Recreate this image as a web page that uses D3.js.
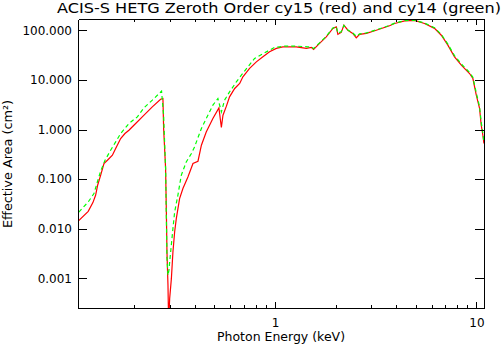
<!DOCTYPE html>
<html>
<head>
<meta charset="utf-8">
<script src="https://cdn.jsdelivr.net/npm/d3@7"></script>
<style>
  html, body { margin: 0; padding: 0; background: #fff; }
  svg { display: block; }
  text { font-family: "DejaVu Sans", "Liberation Sans", sans-serif; fill: #000; }
</style>
</head>
<body>
<svg id="chart" width="504" height="345"></svg>
<script>
// Effective area curves (energy in keV, area in cm^2)
const energyCy15 = [0.105, 0.118, 0.1245, 0.1284, 0.1314, 0.136, 0.1413, 0.147, 0.1556, 0.1615, 0.171, 0.1796, 0.188, 0.199, 0.219, 0.2456, 0.270, 0.2773,
  0.2795, 0.2859, 0.2884, 0.2904, 0.2938, 0.296, 0.2995, 0.3054, 0.3109, 0.317, 0.3231, 0.3355, 0.3485, 0.369, 0.391, 0.414, 0.4305, 0.455, 0.491, 0.526,
  0.541, 0.551, 0.573, 0.594, 0.630, 0.667, 0.692, 0.747, 0.807, 0.870, 0.939, 1.014, 1.093, 1.274, 1.429, 1.513, 1.553, 1.663, 1.795, 1.936, 2.013,
  2.05, 2.13, 2.197, 2.299, 2.43, 2.53, 2.63, 2.84, 3.18, 3.70, 3.92, 4.40, 4.93, 5.52, 6.19, 6.69, 7.21, 7.78, 8.41, 9.24, 9.60, 9.98, 10.36, 10.56, 10.76, 10.89];
const areaCy15 = [0.0140, 0.0223, 0.0335, 0.0471, 0.0750, 0.119, 0.206, 0.240, 0.303, 0.413, 0.658, 0.830, 0.968, 1.22, 1.80, 2.86, 4.09, 4.23,
  1.06, 0.165, 0.0216, 0.00337, 0.000716, 0.00012, 0.000386, 0.000977, 0.00337, 0.00854, 0.0159, 0.0404, 0.0643, 0.110, 0.206, 0.229, 0.482, 0.894, 1.67, 2.73,
  1.10, 1.94, 2.96, 4.56, 6.74, 8.50, 11.6, 17.1, 23.2, 29.3, 37.0, 43.3, 46.6, 46.6, 43.3, 45.4, 41.3, 54.6, 74.3, 110, 118,
  83, 91, 128, 101, 87, 71, 83, 87, 101, 124, 138, 156, 159, 138, 110, 80, 50.5, 29.3, 19.9, 13.5, 10.7, 4.93, 2.66, 1.22, 0.767, 0.521];

const energyCy14 = [0.106, 0.118, 0.126, 0.131, 0.136, 0.143, 0.1525, 0.1615, 0.171, 0.188, 0.207, 0.223, 0.2456, 0.273,
  0.2795, 0.2859, 0.2884, 0.2904, 0.2938, 0.297, 0.2995, 0.3109, 0.317, 0.329, 0.342, 0.362, 0.384, 0.398, 0.4305, 0.4636, 0.491, 0.520,
  0.541, 0.561, 0.594, 0.642, 0.680, 0.733, 0.791, 0.887, 0.994, 1.114, 1.274, 1.455, 1.513, 1.553, 1.663, 1.795, 1.936, 2.013,
  2.05, 2.13, 2.197, 2.299, 2.43, 2.53, 2.63, 2.84, 3.18, 3.70, 3.92, 4.40, 4.93, 5.52, 6.19, 6.69, 7.21, 7.78, 8.41, 9.24, 9.60, 9.98, 10.36, 10.56, 10.76, 10.89];
const areaCy14 = [0.0216, 0.0345, 0.0509, 0.0873, 0.144, 0.240, 0.382, 0.562, 0.830, 1.32, 1.80, 2.73, 3.91, 5.94,
  1.94, 0.163, 0.0162, 0.00251, 0.00114, 0.00144, 0.00211, 0.0100, 0.0216, 0.0471, 0.119, 0.222, 0.327, 0.445, 1.05, 1.94, 3.10, 4.23,
  2.27, 3.91, 5.75, 9.16, 12.5, 18.4, 27.2, 35.3, 45.4, 48.2, 48.2, 46.6, 46, 43, 56, 76, 112, 120,
  88, 94, 126, 102, 89, 76, 85, 89, 103, 126, 140, 158, 160, 141, 113, 83, 53, 31, 21, 14.2, 11.3, 5.5, 2.9, 1.4, 0.85, 0.55];

// Axis ticks
const yTicks = [0.001, 0.01, 0.1, 1, 10, 100];
const xMajorTicks = [1, 10];
const xMinorTicks = [0.2, 0.3, 0.4, 0.5, 0.6, 0.7, 0.8, 0.9, 2, 3, 4, 5, 6, 7, 8, 9];

const titleText = "ACIS-S HETG Zeroth Order cy15 (red) and cy14 (green)";
const xLabel = "Photon Energy (keV)";
const yLabel = "Effective Area (cm²)";

const plot = { left: 78, right: 484, top: 19, bottom: 308 };

const svg = d3.select("#chart");

const x = d3.scaleLog().domain([0.105, 10.9]).range([plot.left, plot.right]);
const y = d3.scaleLog().domain([0.00025, 170]).range([plot.bottom, plot.top]);

svg.append("defs").append("clipPath").attr("id", "plot-clip")
  .append("rect")
  .attr("x", plot.left).attr("y", plot.top)
  .attr("width", plot.right - plot.left).attr("height", plot.bottom - plot.top);

const line = d3.line().x(d => x(d[0])).y(d => y(d[1]));

const cy15 = energyCy15.map((e, i) => [e, areaCy15[i]]);
const cy14 = energyCy14.map((e, i) => [e, areaCy14[i]]);

const curves = svg.append("g").attr("clip-path", "url(#plot-clip)");

curves.append("path")
  .datum(cy15)
  .attr("d", line)
  .attr("fill", "none")
  .attr("stroke", "#ff0000")
  .attr("stroke-width", 1.2);

curves.append("path")
  .datum(cy14)
  .attr("d", line)
  .attr("fill", "none")
  .attr("stroke", "#00ff00")
  .attr("stroke-width", 1.2)
  .attr("stroke-dasharray", "4,3");

// Axes: ticks point into the plot box
const fmt = d3.format(".3f");
const tickFont = "12px";
const fontFamily = "'DejaVu Sans', 'Liberation Sans', sans-serif";

const axisLeftG = svg.append("g").attr("transform", `translate(${plot.left},0)`)
  .call(d3.axisLeft(y).tickValues(yTicks).tickFormat(fmt).tickSizeInner(-9).tickSizeOuter(0).tickPadding(6));
const axisRightG = svg.append("g").attr("transform", `translate(${plot.right},0)`)
  .call(d3.axisRight(y).tickValues(yTicks).tickFormat("").tickSizeInner(-9).tickSizeOuter(0));

const axisBottomG = svg.append("g").attr("transform", `translate(0,${plot.bottom})`)
  .call(d3.axisBottom(x).tickValues(xMajorTicks).tickFormat(d3.format("d")).tickSizeInner(-6).tickSizeOuter(0).tickPadding(10));
const axisBottomMinorG = svg.append("g").attr("transform", `translate(0,${plot.bottom})`)
  .call(d3.axisBottom(x).tickValues(xMinorTicks).tickFormat("").tickSizeInner(-3).tickSizeOuter(0));
const axisTopG = svg.append("g").attr("transform", `translate(0,${plot.top})`)
  .call(d3.axisTop(x).tickValues(xMajorTicks).tickFormat("").tickSizeInner(-6).tickSizeOuter(0));
const axisTopMinorG = svg.append("g").attr("transform", `translate(0,${plot.top})`)
  .call(d3.axisTop(x).tickValues(xMinorTicks).tickFormat("").tickSizeInner(-3).tickSizeOuter(0));

[axisLeftG, axisRightG, axisBottomG, axisBottomMinorG, axisTopG, axisTopMinorG].forEach(g => {
  g.selectAll("path, line").attr("stroke", "#000").attr("shape-rendering", "crispEdges");
  g.selectAll("text").style("font-size", tickFont).style("font-family", fontFamily).attr("fill", "#000");
});

// Title and axis labels
svg.append("text")
  .attr("x", 279).attr("y", 13)
  .attr("text-anchor", "middle")
  .attr("textLength", 444)
  .attr("lengthAdjust", "spacingAndGlyphs")
  .style("font-size", "14px")
  .text(titleText);

svg.append("text")
  .attr("x", 281).attr("y", 341)
  .attr("text-anchor", "middle")
  .attr("textLength", 128)
  .attr("lengthAdjust", "spacingAndGlyphs")
  .style("font-size", "12px")
  .text(xLabel);

svg.append("text")
  .attr("transform", "translate(12,164) rotate(-90)")
  .attr("text-anchor", "middle")
  .attr("textLength", 128)
  .attr("lengthAdjust", "spacingAndGlyphs")
  .style("font-size", "12px")
  .text(yLabel);
</script>
</body>
</html>
